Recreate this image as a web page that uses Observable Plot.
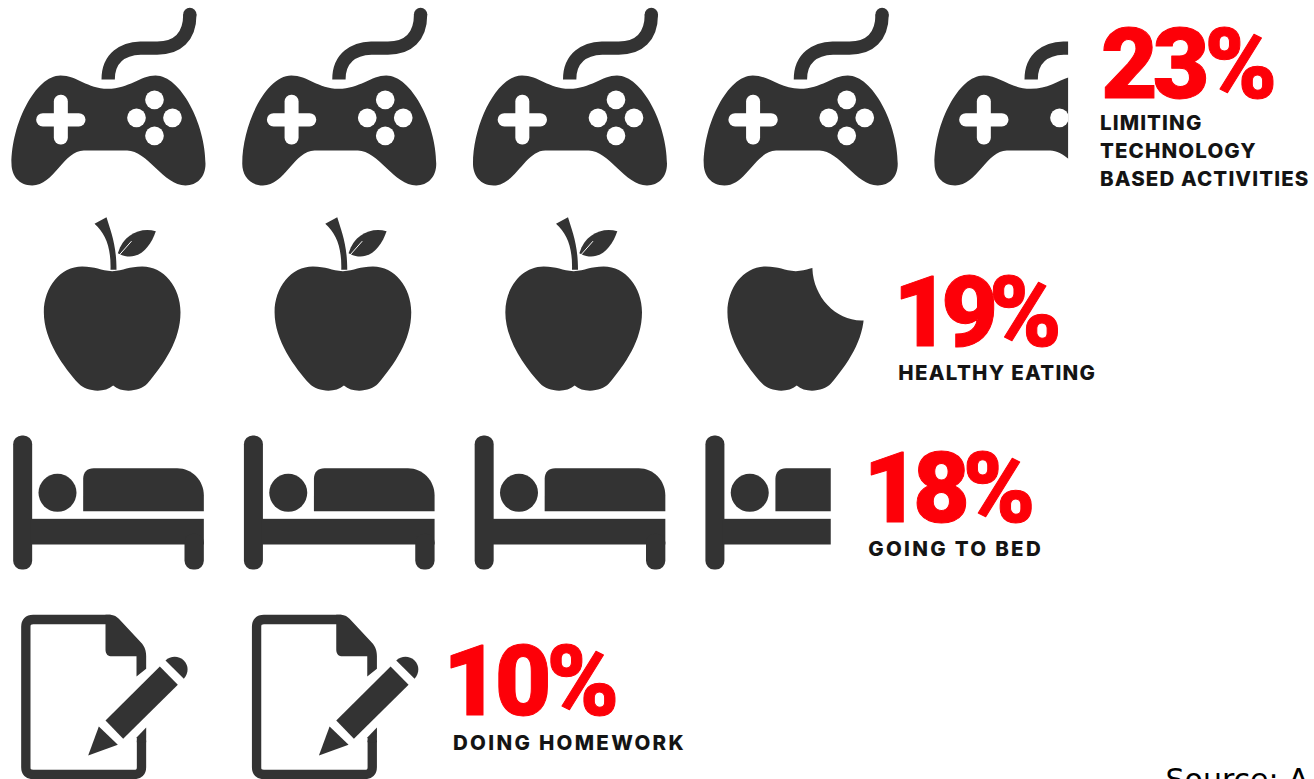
<!DOCTYPE html>
<html>
<head>
<meta charset="utf-8">
<script src="https://cdn.jsdelivr.net/npm/d3@7"></script>
<script src="https://cdn.jsdelivr.net/npm/@observablehq/plot@0.6"></script>
<style>
html,body{margin:0;padding:0;background:#fff;overflow:hidden}
svg{display:block}
</style>
</head>
<body>
<div id="chart"></div>
<script>
// Data: one icon stands for 5 per cent
const categories = ["technology", "eating", "bed", "homework"];
const values = [23, 19, 18, 10];
const valueLabels = ["23%", "19%", "18%", "10%"];
const captions = ["LIMITING\nTECHNOLOGY\nBASED ACTIVITIES", "HEALTHY EATING", "GOING TO BED", "DOING HOMEWORK"];
const percentPerIcon = 5;
const sourceNote = "Source: A";

// Layout, per row (pixels relative to the scales)
const rowDy = [0, 0, 20, 0];
const numberDx = [39, 16, 32, -19];
const captionDx = [38, 21, 37, -9];
const numberDy = [-3, 45, 1, 14];
const captionDy = [85, 79, 35, 49];
const numberSpacing = [-5, -9, -7, -5];
const captionSpacing = [1.13, 1.3, 2.3, 2.3];

const DARK = "#333333";
const RED = "#fd0008";

const spaced = (px) => (index, scales, values, dimensions, context, next) => {
  const g = next(index, scales, values, dimensions, context);
  g.style.letterSpacing = `${px}px`;
  return g;
};

const icons = {
  technology: (f) => {
    const body = `
      <path d="M180,225C230,225 260,265 322,265C385,265 420,225 465,225C540,225 615,370 615,490C615,530 590,555 555,555C490,555 440,450 380,450L250,450C190,450 160,555 95,555C55,555 33,525 33,490C33,370 105,225 180,225Z"/>
      <path d="M323,237C323,170 370,145 420,143L470,143C530,143 568,110 568,42" fill="none" stroke="${DARK}" stroke-width="40"/>
      <circle cx="568" cy="42" r="20"/>
      <g fill="#fff"><rect x="107" y="338" width="148" height="40" rx="20"/><rect x="160" y="283" width="42" height="149" rx="20"/>
      <circle cx="462" cy="298" r="28"/><circle cx="408" cy="352" r="28"/><circle cx="516" cy="352" r="28"/><circle cx="462" cy="406" r="28"/></g>`;
    return f < 1 ? {body, clip: `<rect x="0" y="0" width="${f * 723}" height="600"/>`} : {body};
  },
  eating: (f) => {
    const apple = `<path d="M335,212C300,210 285,198 245,198C180,198 130,260 130,335C130,420 190,500 235,550C255,572 310,580 338,555C365,580 420,572 440,550C490,490 540,420 540,335C540,260 490,198 425,198C385,198 370,210 335,212Z"/>`;
    if (f < 1) return {
      body: `<g transform="translate(-26,0)">${apple}</g>`,
      clip: `<path d="M0,0H359V205C362,290 430,362 509,360H720V600H0Z"/>`
    };
    return {body: apple + `
      <path d="M282,70L318,50C330,90 348,130 348,208L330,208C332,140 315,100 282,70Z"/>
      <path d="M352,158C370,100 420,80 466,92C450,140 410,190 352,158Z"/>
      <path d="M356,164L393,122" stroke="#fff" stroke-width="3" fill="none"/>`};
  },
  bed: (f) => {
    const body = `
      <rect x="38" y="45" width="57" height="402" rx="26"/>
      <circle cx="171" cy="217" r="57"/>
      <path d="M248,272V175C248,155 260,143 280,143H530C575,143 610,180 610,225V272Z"/>
      <rect x="90" y="295" width="520" height="77"/>
      <rect x="552" y="340" width="58" height="107" rx="26"/>`;
    return f < 1 ? {body, clip: `<rect x="0" y="0" width="${f * 690}" height="600"/>`} : {body};
  },
  homework: () => ({body: `
      <path d="M423,420V500Q423,522 400,522H98Q76,522 76,500V79Q76,57 98,57H330" fill="none" stroke="${DARK}" stroke-width="28"/>
      <path d="M409,410L437,381V425H409Z"/>
      <path d="M315,43H330C340,43 350,50 355,55L425,130C432,140 437,150 437,167V205L408,228V167H330C320,167 315,157 315,147Z"/>
      <path d="M315,360L478,198L532,253L368,415Z"/>
      <path d="M295,378L352,433L263,465Z"/>
      <path d="M495,180C510,165 535,165 550,180C565,195 565,218 550,235Z"/>`})
};

function iconSrc(category, fraction) {
  const {body, clip} = icons[category](fraction);
  const svg = `<svg xmlns="http://www.w3.org/2000/svg" width="720" height="600" viewBox="0 0 720 600">` +
    (clip ? `<defs><clipPath id="c">${clip}</clipPath></defs><g clip-path="url(#c)" fill="${DARK}">` : `<g fill="${DARK}">`) +
    body + `</g></svg>`;
  return "data:image/svg+xml;charset=utf-8," + encodeURIComponent(svg);
}

const tiles = categories.map((category, r) => {
  const units = values[r] / percentPerIcon;
  return d3.range(Math.ceil(units)).map((i) => ({
    category, i, fraction: Math.min(1, units - i)
  }));
});

const marks = [];
categories.forEach((category, r) => {
  marks.push(Plot.image(tiles[r], {
    x: "i", y: "category", dx: 120, dy: rowDy[r],
    width: 240, height: 200,
    src: (d) => iconSrc(d.category, d.fraction)
  }));
  const row = [{category, pos: values[r] / percentPerIcon, number: valueLabels[r], caption: captions[r]}];
  marks.push(Plot.text(row, {
    x: "pos", y: "category", text: "number", dx: numberDx[r], dy: rowDy[r] + numberDy[r],
    fill: RED, stroke: RED, strokeWidth: 1, fontSize: 98, lineAnchor: "bottom",
    fontFamily: "Roboto, sans-serif", fontWeight: 900, textAnchor: "start",
    render: spaced(numberSpacing[r])
  }));
  marks.push(Plot.text(row, {
    x: "pos", y: "category", text: "caption", dx: captionDx[r], dy: rowDy[r] + captionDy[r],
    fill: "#141414", fontSize: 20.5, lineHeight: 1.36, lineAnchor: "bottom",
    fontFamily: "Inter, sans-serif", fontWeight: 800, textAnchor: "start",
    render: spaced(captionSpacing[r])
  }));
});
marks.push(Plot.text([sourceNote], {
  frameAnchor: "bottom-left", dx: 1165, dy: 10, fill: "#000", fontSize: 30,
  fontFamily: "'DejaVu Sans', sans-serif", textAnchor: "start", lineAnchor: "bottom"
}));

const chart = Plot.plot({
  width: 1314, height: 779,
  margin: 0,
  style: {background: "#fff"},
  x: {axis: null, domain: [0, 5], range: [0, 1153.75]},
  y: {axis: null, type: "point", domain: categories, range: [100, 700], padding: 0},
  marks
});
document.getElementById("chart").append(chart);
</script>
</body>
</html>
